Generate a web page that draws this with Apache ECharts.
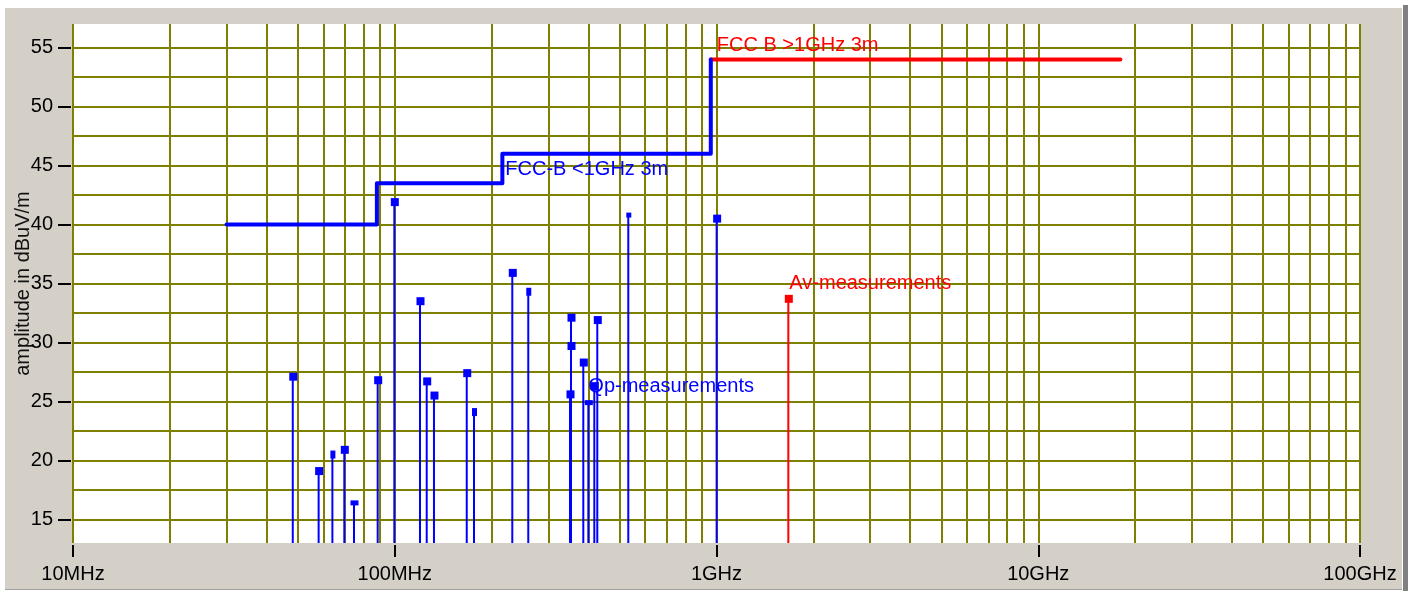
<!DOCTYPE html>
<html>
<head>
<meta charset="utf-8">
<script src="https://cdn.jsdelivr.net/npm/echarts@6/dist/echarts.min.js"></script>
<style>
html, body { margin: 0; padding: 0; background: #ffffff; width: 1408px; height: 591px; overflow: hidden; }
#panel { position: absolute; left: 5px; top: 8px; width: 1397px; height: 581px; background: #d4d0c8; border-bottom: 1px solid #a0a0a0; }
#edge { position: absolute; left: 1403px; top: 5px; width: 5px; height: 586px; background: #808080; }
#chart { position: absolute; left: 0; top: 0; width: 1408px; height: 591px; }
</style>
</head>
<body>
<div id="panel"></div>
<div id="edge"></div>
<div id="chart"></div>
<script>
// ---------------- data ----------------
const xTickLabels = ['10MHz', '100MHz', '1GHz', '10GHz', '100GHz'];
const yTickValues = [15, 20, 25, 30, 35, 40, 45, 50, 55];

const seriesNames = ['FCC-B <1GHz 3m', 'FCC B >1GHz 3m', 'Qp-measurements', 'Av-measurements'];

// FCC class B limit below 1 GHz (3 m), step line
const limitLowFreq  = [30e6, 88e6, 88e6, 216e6, 216e6, 960e6, 960e6];
const limitLowLevel = [40, 40, 43.5, 43.5, 46, 46, 54];

// FCC class B limit above 1 GHz (3 m)
const limitHighFreq  = [960e6, 18e9];
const limitHighLevel = [54, 54];

// Quasi-peak measurements (Hz, dBuV/m)
const qpFreq = [48.2e6, 58.0e6, 64.0e6, 69.7e6, 74.7e6, 88.5e6, 99.7e6, 119.8e6, 125.7e6, 132.4e6,
                167.4e6, 176.3e6, 231.9e6, 260.0e6, 350.5e6, 353.0e6, 353.0e6, 385.5e6, 399.6e6, 417.1e6,
                426.1e6, 531.9e6, 1001e6];
const qpLevel = [27.1, 19.1, 20.5, 20.9, 16.4, 26.8, 41.9, 33.5, 26.7, 25.5,
                 27.4, 24.1, 35.9, 34.3, 25.6, 32.1, 29.7, 28.3, 24.9, 26.3,
                 31.9, 40.8, 40.5];

// Average measurements
const avFreq  = [1.672e9];
const avLevel = [33.7];

// ---------------- chart ----------------
const X_MIN = 1e7, X_MAX = 1e11, Y_MIN = 13, Y_MAX = 57;
const FONT = '"Liberation Sans", Arial, sans-serif';
const OLIVE = '#808000';
const BLUE = '#0000ff';
const RED = '#ff0000';

// grid lines (1-2-3-...-9 per decade, and every 2.5 dB)
const vGrid = [];
for (let d = 7; d <= 10; d++) for (let k = 1; k <= 9; k++) vGrid.push(k * Math.pow(10, d));
vGrid.push(X_MAX);
const hGrid = [];
for (let v = 15; v <= 55.01; v += 2.5) hGrid.push(v);

const zip = (a, b) => a.map((v, i) => [v, b[i]]);

// marker shape styling (some markers in the original are drawn narrower/shorter)
const narrowIdx = new Set([2, 11, 13, 21]);
const shortIdx = new Set([4, 18, 21]);

function stemRenderer(color, useShapes) {
  return function (params, api) {
    const x = api.value(0), y = api.value(1);
    const top = api.coord([x, y]);
    const base = api.coord([x, Y_MIN]);
    const i = params.dataIndex;
    const w = useShapes && narrowIdx.has(i) ? 5 : 8;
    const h = useShapes && shortIdx.has(i) ? 5 : 8;
    return {
      type: 'group',
      children: [
        { type: 'line', shape: { x1: top[0], y1: top[1], x2: base[0], y2: base[1] },
          style: { stroke: color, lineWidth: 2 } },
        { type: 'rect', shape: { x: top[0] - w / 2 + 0.5, y: top[1] - h / 2, width: w, height: h },
          style: { fill: color } }
      ]
    };
  };
}

function labelPoint(coord, name, color, offset) {
  return {
    coord: coord,
    symbol: 'circle',
    symbolSize: 0,
    label: {
      show: true, position: 'right', distance: 0, offset: offset,
      formatter: name, color: color, fontSize: 20, fontFamily: FONT
    }
  };
}

const chart = echarts.init(document.getElementById('chart'), null, { renderer: 'canvas' });
chart.setOption({
  animation: false,
  backgroundColor: 'transparent',
  grid: {
    left: 73, right: 48, top: 24, bottom: 48,
    show: true, backgroundColor: '#ffffff', borderWidth: 0,
    containLabel: false, outerBoundsMode: 'none'
  },
  xAxis: {
    type: 'log', logBase: 10, min: X_MIN, max: X_MAX,
    offset: 2,
    axisLine: { show: false },
    axisTick: { show: true, length: 12, lineStyle: { color: '#000', width: 2 } },
    axisLabel: {
      show: true, margin: 19, color: '#000', fontSize: 20, fontFamily: FONT,
      formatter: v => xTickLabels[Math.round(Math.log10(v)) - 7] || ''
    },
    splitLine: { show: false },
    minorTick: { show: false },
    minorSplitLine: { show: false }
  },
  yAxis: {
    type: 'value', min: Y_MIN, max: Y_MAX,
    offset: 2,
    name: 'amplitude in dBuV/m',
    nameLocation: 'middle', nameGap: 38, nameMoveOverlap: false,
    nameTextStyle: { color: '#111', fontSize: 20, fontFamily: FONT },
    axisLine: { show: false },
    axisTick: { show: true, length: 13, customValues: yTickValues, lineStyle: { color: '#000', width: 2 } },
    axisLabel: { show: true, margin: 18, customValues: yTickValues, color: '#000', fontSize: 20, fontFamily: FONT },
    splitLine: { show: false }
  },
  series: [
    {
      name: 'grid', type: 'line', data: [], z: 1, silent: true,
      markLine: {
        z: 1, zlevel: 0,
        silent: true, symbol: ['none', 'none'], animation: false,
        label: { show: false },
        emphasis: { disabled: true },
        lineStyle: { color: OLIVE, width: 2, type: 'solid' },
        data: vGrid.map(v => ({ xAxis: v })).concat(hGrid.map(v => ({ yAxis: v })))
      }
    },
    {
      name: seriesNames[1], type: 'line', z: 3, silent: true,
      data: zip(limitHighFreq, limitHighLevel),
      showSymbol: false, symbol: 'none',
      lineStyle: { color: RED, width: 4, cap: 'round', join: 'round' },
      markPoint: { z: 6, silent: true, data: [labelPoint([limitHighFreq[0], limitHighLevel[0]], seriesNames[1], RED, [6, -14])] }
    },
    {
      name: seriesNames[0], type: 'line', z: 4, silent: true,
      data: zip(limitLowFreq, limitLowLevel),
      showSymbol: false, symbol: 'none',
      lineStyle: { color: BLUE, width: 4, cap: 'round', join: 'round' },
      markPoint: { z: 6, silent: true, data: [labelPoint([limitLowFreq[3], limitLowLevel[3]], seriesNames[0], BLUE, [3, -14])] }
    },
    {
      name: seriesNames[2], type: 'custom', z: 5, silent: true,
      data: zip(qpFreq, qpLevel),
      renderItem: stemRenderer(BLUE, true),
      markPoint: { z: 6, silent: true, data: [labelPoint([qpFreq[18], qpLevel[18]], seriesNames[2], BLUE, [0, -16])] }
    },
    {
      name: seriesNames[3], type: 'custom', z: 5, silent: true,
      data: zip(avFreq, avLevel),
      renderItem: stemRenderer(RED, false),
      markPoint: { z: 6, silent: true, data: [labelPoint([avFreq[0], avLevel[0]], seriesNames[3], RED, [1, -15.5])] }
    }
  ]
});
</script>
</body>
</html>
